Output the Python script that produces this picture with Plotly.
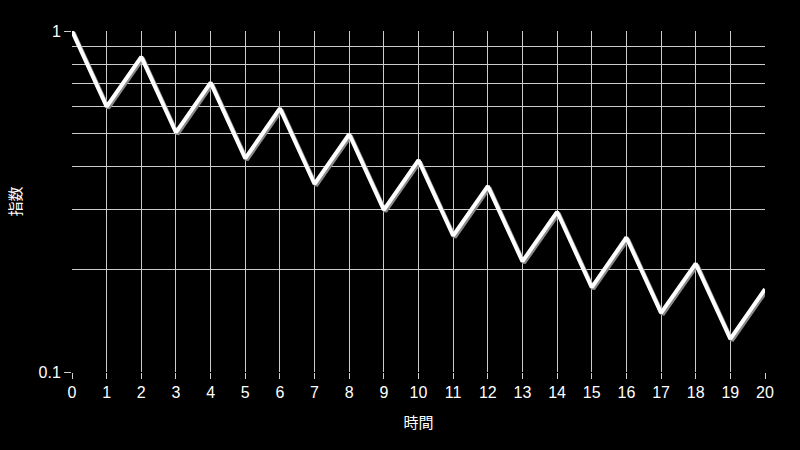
import plotly.graph_objects as go

# 時間 (x) and 指数 (y) values
time_steps = list(range(0, 21))
index_values = [1.0, 0.6, 0.84, 0.504, 0.706, 0.423, 0.593, 0.356, 0.498, 0.299,
                0.418, 0.251, 0.351, 0.211, 0.295, 0.177, 0.248, 0.149, 0.208, 0.125,
                0.175]

y_ticks = [0.1, 1]
y_tick_text = ["0.1", "1"]
y_minor = [0.2, 0.3, 0.4, 0.5, 0.6, 0.7, 0.8, 0.9]

FONT = "Liberation Sans, Arial, Noto Sans CJK JP, sans-serif"
GRID = "#cccccc"

fig = go.Figure()

# soft drop shadow on the base axes, shifted a couple of pixels down-right
fig.add_trace(go.Scatter(
    x=time_steps, y=index_values, mode="lines",
    line=dict(color="#8a8a8a", width=4),
    hoverinfo="skip", showlegend=False,
))
# main white line on the overlay axes (drawn on top)
fig.add_trace(go.Scatter(
    x=time_steps, y=index_values, mode="lines",
    line=dict(color="#ffffff", width=4),
    xaxis="x2", yaxis="y2", showlegend=False,
))

fig.update_layout(
    width=800, height=450,
    paper_bgcolor="#000000", plot_bgcolor="#000000",
    margin=dict(l=72, r=35, t=31, b=78),
    font=dict(family=FONT, size=16, color="#ffffff"),
    xaxis=dict(
        range=[-0.045, 19.955], dtick=1, tick0=0,
        showgrid=False, zeroline=False, showline=False,
        showticklabels=False, ticks="",
    ),
    yaxis=dict(
        type="log", range=[-0.9955, 0.0045],
        showgrid=False, zeroline=False, showline=False,
        showticklabels=False, ticks="",
    ),
    xaxis2=dict(
        range=[0, 20], dtick=1, tick0=0, overlaying="x",
        showgrid=True, gridcolor=GRID, gridwidth=1,
        zeroline=False, showline=False,
        ticks="outside", ticklen=6, tickcolor=GRID,
        title=dict(text="時間", font=dict(size=15), standoff=17),
    ),
    yaxis2=dict(
        type="log", range=[-1, 0], overlaying="y",
        tickvals=y_ticks, ticktext=y_tick_text,
        showgrid=True, gridcolor=GRID, gridwidth=1,
        minor=dict(tickvals=y_minor, showgrid=True, gridcolor=GRID, gridwidth=1, ticks=""),
        zeroline=False, showline=False,
        ticks="outside", ticklen=7, tickcolor=GRID,
        title=dict(text="指数", font=dict(size=15), standoff=13),
    ),
)

fig.write_html(
    "out.html",
    config={"displayModeBar": False},
    post_script="document.body.style.margin='0';document.body.style.background='#000';",
)
